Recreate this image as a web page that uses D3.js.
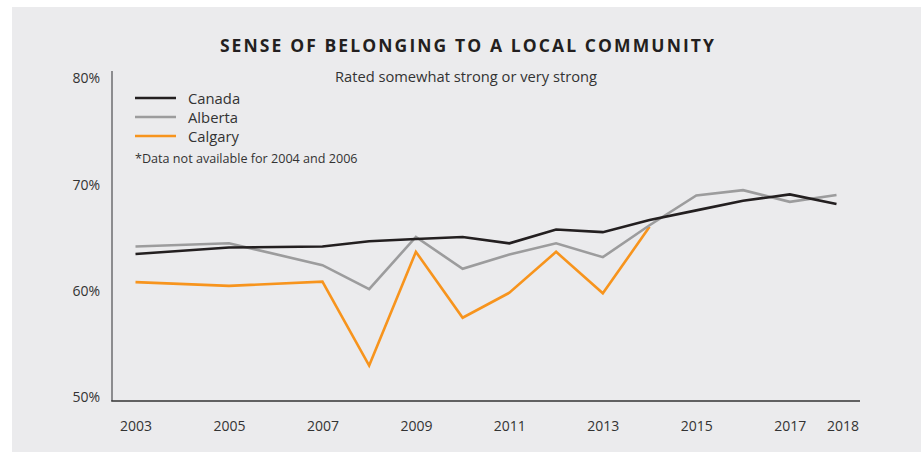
<!DOCTYPE html>
<html>
<head>
<meta charset="utf-8">
<script src="https://cdn.jsdelivr.net/npm/d3@7"></script>
<style>
  html, body { margin: 0; padding: 0; background: #ffffff; }
  svg { display: block; font-family: "Open Sans", "Lato", sans-serif; }
</style>
</head>
<body>
<svg id="chart" width="921" height="452"></svg>
<script>
// Survey years (2004 and 2006 not collected)
const years = [2003, 2005, 2007, 2008, 2009, 2010, 2011, 2012, 2013, 2014, 2015, 2016, 2017, 2018];
// Share rating their sense of belonging as somewhat or very strong (%)
const canada  = [63.5, 64.1, 64.2, 64.7, 64.9, 65.1, 64.5, 65.8, 65.55, 66.7, 67.6, 68.5, 69.1, 68.2];
const alberta = [64.2, 64.5, 62.45, 60.2, 65.1, 62.1, 63.45, 64.5, 63.2, 66.2, 69.0, 69.5, 68.4, 69.05];
const calgary = [60.85, 60.5, 60.9, 53.0, 63.7, 57.5, 59.85, 63.7, 59.8, 66.05, null, null, null, null];
const seriesNames = ["Canada", "Alberta", "Calgary"];
const xTickYears = [2003, 2005, 2007, 2009, 2011, 2013, 2015, 2017, 2018];
const yTicks = [50, 60, 70, 80];

const colors = { Canada: "#231f20", Alberta: "#9c9c9d", Calgary: "#f7941d" };
const seriesValues = { Canada: canada, Alberta: alberta, Calgary: calgary };

const svg = d3.select("#chart");

// panel background
svg.append("rect")
  .attr("x", 12).attr("y", 7).attr("width", 909).attr("height", 445)
  .attr("fill", "#ebebed");

const x = d3.scaleLinear().domain([2003, 2018]).range([135.5, 836.5]);
const y = d3.scaleLinear().domain([50, 80]).range([397.5, 78.5]);

// title
svg.append("text")
  .attr("x", 468).attr("y", 52)
  .attr("text-anchor", "middle")
  .attr("font-size", 17.5).attr("font-weight", 700)
  .attr("letter-spacing", 2.1)
  .attr("fill", "#231f20")
  .text("SENSE OF BELONGING TO A LOCAL COMMUNITY");

svg.append("text")
  .attr("x", 466).attr("y", 82)
  .attr("text-anchor", "middle")
  .attr("font-size", 14.7)
  .attr("fill", "#333333")
  .text("Rated somewhat strong or very strong");

// y axis
const yAxis = d3.axisLeft(y).tickValues(yTicks).tickFormat(d => d + "%").tickSize(0).tickPadding(12);
const gy = svg.append("g").attr("transform", "translate(112,0)").call(yAxis);
gy.select(".domain").remove();
gy.selectAll("text").attr("font-size", 14).attr("fill", "#333333").attr("font-family", "Open Sans, sans-serif");
svg.append("line")
  .attr("x1", 112).attr("x2", 112).attr("y1", 71).attr("y2", 401)
  .attr("stroke", "#6d6d6f").attr("stroke-width", 1.5);

// x axis
const xAxis = d3.axisBottom(x).tickValues(xTickYears).tickFormat(d3.format("d")).tickSize(0).tickPadding(20);
const gx = svg.append("g").attr("transform", "translate(0,401)").call(xAxis);
gx.select(".domain").remove();
gx.selectAll("text").attr("font-size", 14).attr("fill", "#333333").attr("font-family", "Open Sans, sans-serif")
  .attr("dx", d => d === 2018 ? 6 : 0);
svg.append("line")
  .attr("x1", 111.25).attr("x2", 860).attr("y1", 401).attr("y2", 401)
  .attr("stroke", "#333333").attr("stroke-width", 1.5);

// series lines
const line = d3.line()
  .defined(d => d.v !== null)
  .x(d => x(d.year))
  .y(d => y(d.v));

seriesNames.slice().reverse().forEach(name => {
  const pts = years.map((yr, i) => ({ year: yr, v: seriesValues[name][i] }));
  svg.append("path")
    .datum(pts)
    .attr("d", line)
    .attr("fill", "none")
    .attr("stroke", colors[name])
    .attr("stroke-width", 2.6)
    .attr("stroke-linejoin", "miter");
});

// legend
const legend = svg.append("g").attr("transform", "translate(135,98)");
seriesNames.forEach((name, i) => {
  const g = legend.append("g").attr("transform", `translate(0,${i * 19})`);
  g.append("line").attr("x1", 0).attr("x2", 41).attr("y1", 0).attr("y2", 0)
    .attr("stroke", colors[name]).attr("stroke-width", 2.6);
  g.append("text").attr("x", 53).attr("y", 5.5)
    .attr("font-size", 14.8).attr("fill", "#333333").text(name);
});

svg.append("text")
  .attr("x", 135).attr("y", 163)
  .attr("font-size", 12.6).attr("fill", "#333333")
  .text("*Data not available for 2004 and 2006");
</script>
</body>
</html>
